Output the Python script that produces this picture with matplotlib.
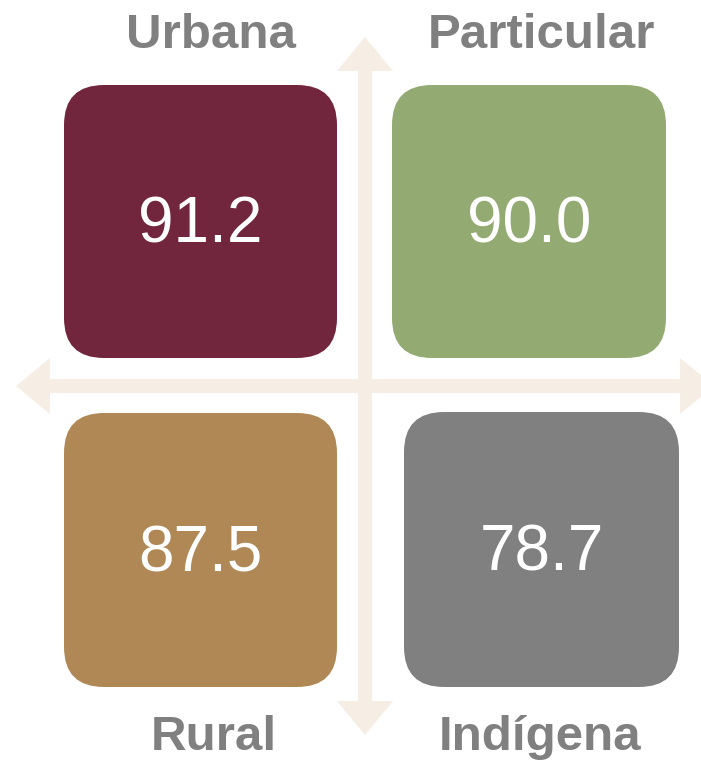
import matplotlib.pyplot as plt
from matplotlib.patches import FancyBboxPatch, FancyArrow

plt.rcParams['font.family'] = ['Liberation Sans', 'DejaVu Sans']

# quadrant data
labels = ['Urbana', 'Particular', 'Rural', 'Indígena']
values = [91.2, 90.0, 87.5, 78.7]
colors = ['#72263d', '#93ab73', '#b08856', '#808080']

# box extents in pixels (x0, y0, x1, y1)
boxes = [(64, 85, 337, 358), (392, 85, 666, 358),
         (64, 413, 337, 687), (404, 412, 679, 687)]
label_xy = [(211, 35), (541, 35), (214, 738), (540, 738)]

fig = plt.figure(figsize=(7.01, 7.65), dpi=100)
ax = fig.add_axes([0, 0, 1, 1])
ax.set_xlim(0, 701)
ax.set_ylim(765, 0)
ax.axis('off')

# cross arrows
arrow_col = '#f6ede4'
cx, cy = 365, 386
for dx, dy in [(16 - cx, 0), (714 - cx, 0), (0, 37 - cy), (0, 735 - cy)]:
    ax.add_patch(FancyArrow(cx, cy, dx, dy, width=14, head_width=56, head_length=34,
                            length_includes_head=True, color=arrow_col, lw=0, zorder=1))

for lab, val, col, (x0, y0, x1, y1), (lx, ly) in zip(labels, values, colors, boxes, label_xy):
    ax.add_patch(FancyBboxPatch((x0, y0), x1 - x0, y1 - y0,
                                boxstyle='round,pad=0,rounding_size=40',
                                fc=col, ec='none', zorder=2))
    ax.text((x0 + x1) / 2, (y0 + y1) / 2 + 4, f'{val:.1f}', color='white',
            fontsize=46, ha='center', va='center', zorder=3)
    ax.text(lx, ly, lab, color='#808080', fontsize=35.5,
            fontweight='bold', ha='center', va='center')

fig.savefig('out.png', dpi=100)
